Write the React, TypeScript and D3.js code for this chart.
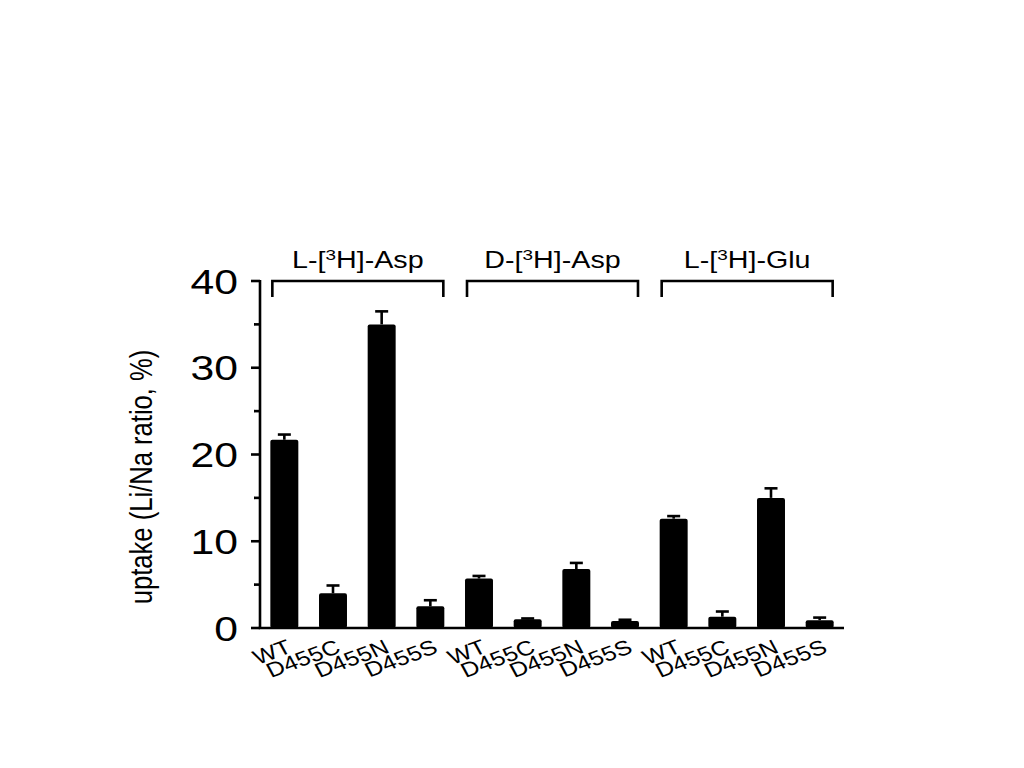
import React from "react";
import * as d3 from "d3";

const groups = ["L-Asp", "D-Asp", "L-Glu"];
const groupLabels: [string, string][] = [["L-[", "H]-Asp"], ["D-[", "H]-Asp"], ["L-[", "H]-Glu"]];
const mutants = ["WT", "D455C", "D455N", "D455S"];
const values = [21.7, 4.0, 35.0, 2.5, 5.7, 1.0, 6.8, 0.8, 12.6, 1.3, 15.0, 0.9];
const errors = [0.6, 0.9, 1.5, 0.7, 0.3, 0.1, 0.7, 0.15, 0.3, 0.6, 1.1, 0.3];
const majorTicks = [0, 10, 20, 30, 40];
const minorTicks = [5, 15, 25, 35];

const SX = 1.22;

export default function App() {
  const ids = values.map((_, i) => `b${i}`);
  const x = d3.scaleBand<string>().domain(ids).range([260, 844]).paddingInner(0.425).paddingOuter(0.2125);
  const y = d3.scaleLinear().domain([0, 40]).range([628, 281]);
  const bw = x.bandwidth();
  const sw = 2.6;
  return (
    <svg width={1024} height={768} style={{ position: "absolute", left: 0, top: 0, background: "#fff" }}
      fontFamily="'Liberation Sans', Arial, sans-serif">
      {/* bars */}
      {values.map((v, i) => {
        const x0 = x(ids[i])!;
        const cx = x0 + bw / 2;
        const top = y(v + errors[i]);
        return (
          <g key={i}>
            <line x1={cx} x2={cx} y1={y(v)} y2={top} stroke="#000" strokeWidth={sw} />
            <line x1={cx - 6.5} x2={cx + 6.5} y1={top} y2={top} stroke="#000" strokeWidth={sw} />
            <rect x={x0} y={y(v)} width={bw} height={y(0) - y(v)} fill="#000" rx={2} />
          </g>
        );
      })}
      {/* y axis */}
      <line x1={260} x2={260} y1={y(40) - 1} y2={y(0) + 1} stroke="#000" strokeWidth={sw} />
      {majorTicks.map((t) => (
        <g key={t}>
          <line x1={251} x2={260} y1={y(t)} y2={y(t)} stroke="#000" strokeWidth={sw} />
          <text transform={`translate(238,${y(t)}) scale(${SX},1)`} textAnchor="end" dy="0.36em" fontSize={35}>{t}</text>
        </g>
      ))}
      {minorTicks.map((t) => (
        <line key={t} x1={254} x2={260} y1={y(t)} y2={y(t)} stroke="#000" strokeWidth={sw} />
      ))}
      {/* x axis */}
      <line x1={258.7} x2={844} y1={y(0)} y2={y(0)} stroke="#000" strokeWidth={sw} />
      {values.map((_, i) => {
        const cx = x(ids[i])! + bw / 2;
        return (
          <text key={i} transform={`translate(${cx + 9},${652}) scale(${SX},1) rotate(-24)`} textAnchor="end" fontSize={20.5}>
            {mutants[i % 4]}
          </text>
        );
      })}
      {/* group brackets */}
      {groups.map((g, gi) => {
        const a = x(ids[gi * 4])! + 2;
        const b = x(ids[gi * 4 + 3])! + bw - 1;
        const top = y(40);
        return (
          <g key={g}>
            <path d={`M${a},${top + 16}V${top}H${b}V${top + 16}`} fill="none" stroke="#000" strokeWidth={sw} />
            <text transform={`translate(${(a + b) / 2},268) scale(${SX},1)`} textAnchor="middle" fontSize={23.5}>
              {groupLabels[gi][0]}
              <tspan fontSize={15.5} dy={-8.5}>3</tspan>
              <tspan dy={8.5}>{groupLabels[gi][1]}</tspan>
            </text>
          </g>
        );
      })}
      {/* y label */}
      <text transform={`translate(152,477) scale(${SX},1) rotate(-90)`} textAnchor="middle" fontSize={25.6}>
        uptake (Li/Na ratio, %)
      </text>
    </svg>
  );
}
